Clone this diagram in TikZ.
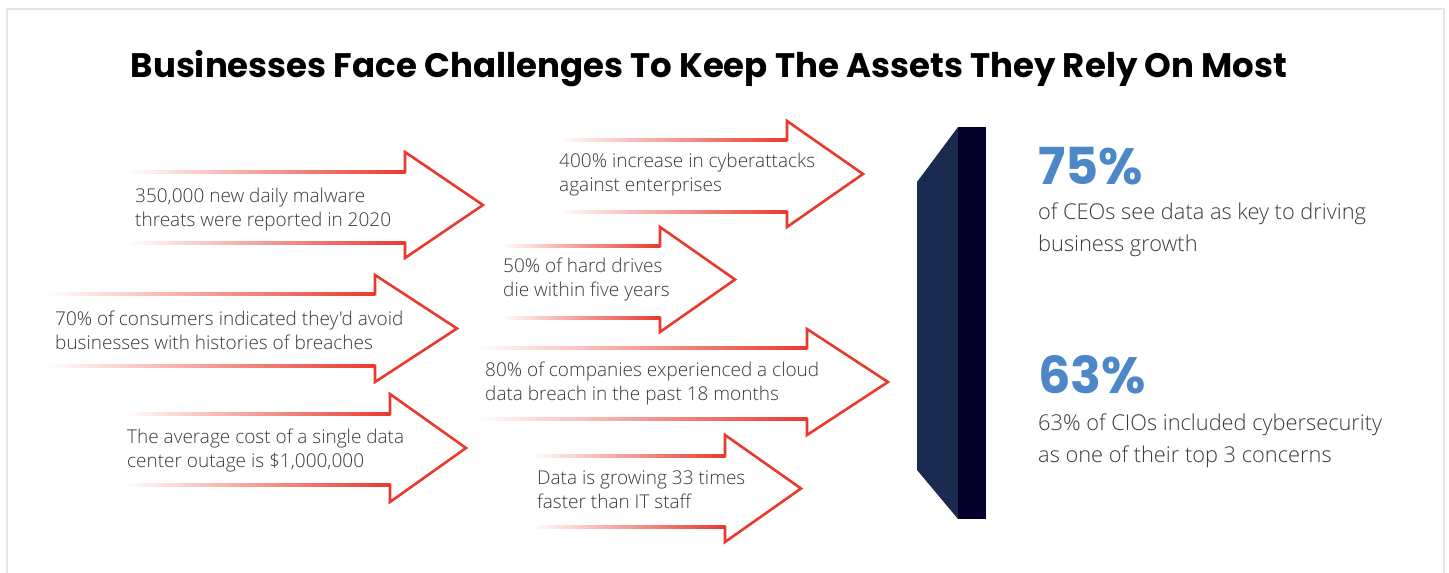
\documentclass[tikz,border=0pt]{standalone}
\usepackage{fontspec}
\setmainfont{Open Sans}
\newfontfamily\lightfont{Open Sans Light}
\newfontfamily\popfont{Poppins}
\definecolor{arrowred}{HTML}{E93A2E}
\definecolor{fadered}{HTML}{F8BBA6}
\definecolor{txtgray}{HTML}{3A3A3A}
\definecolor{framegray}{HTML}{E6E6E6}
\definecolor{wallnavy}{HTML}{1B2B50}
\definecolor{walldark}{HTML}{03012A}
\definecolor{statblue}{HTML}{4D87C7}
\tikzset{
  headline/.style={draw=arrowred, line width=2.6pt, line join=miter, line cap=butt},
  arrtext/.style={anchor=west, align=left, inner sep=0pt, text=txtgray,
    font=\lightfont\fontsize{19}{24}\selectfont},
  stattext/.style={anchor=north west, align=left, inner sep=0pt, text=txtgray,
    font=\lightfont\fontsize{21.8}{32}\selectfont},
  statnum/.style={anchor=south west, inner sep=0pt, text=statblue,
    font=\popfont\bfseries\fontsize{51}{51}\selectfont},
}
% #1 left x, #2 shaft top, #3 shaft bottom, #4 head base x, #5 head top, #6 head bottom, #7 tip x
\newcommand\outlinearrow[7]{%
  \shade[left color=white, middle color=fadered, right color=arrowred]
    (#1,#2-1.3) rectangle (#4,#2+1.3);
  \shade[left color=white, middle color=fadered, right color=arrowred]
    (#1,#3-1.3) rectangle (#4,#3+1.3);
  \draw[headline] (#4-1,#2) -- (#4,#2) -- (#4,#5) -- (#7,{(#5+#6)/2}) -- (#4,#6) -- (#4,#3) -- (#4-1,#3);
}
\begin{document}
\begin{tikzpicture}[x=1pt,y=-1pt]
\useasboundingbox (0,0) rectangle (1449,573);
\fill[white] (0,0) rectangle (1449,573);
\draw[framegray, line width=2.5pt] (7,573) -- (7,9) -- (1444,9) -- (1444,573);

\node[anchor=base, inner sep=0pt, font=\popfont\bfseries\fontsize{34}{34}\selectfont] (title)
  at (709,77) {Businesses Face Challenges To Keep The Assets They Rely On Most};

% arrows
\outlinearrow{127}{172}{243}{405}{152}{258}{483}
\outlinearrow{557}{140}{212}{787}{121}{227}{863}
\outlinearrow{500}{246}{318}{660}{227}{332}{735}
\outlinearrow{47}{294}{366}{375}{275}{382}{457}
\outlinearrow{477}{348}{419}{807}{329}{435}{888}
\outlinearrow{124}{414}{485}{390}{394}{502}{466}
\outlinearrow{530}{456}{527}{725}{435}{542}{801}

\node[arrtext] (t1) at (135,210) {350,000 new daily malware\\threats were reported in 2020};
\node[arrtext] (t2) at (559,175) {400\% increase in cyberattacks\\against enterprises};
\node[arrtext] (t3) at (503,280) {50\% of hard drives\\die within five years};
\node[arrtext] (t4) at (55,330) {70\% of consumers indicated they'd avoid\\businesses with histories of breaches};
\node[arrtext] (t5) at (485,384) {80\% of companies experienced a cloud\\data breach in the past 18 months};
\node[arrtext] (t6) at (127,451) {The average cost of a single data\\center outage is \$1,000,000};
\node[arrtext] (t7) at (537,490) {Data is growing 33 times\\faster than IT staff};

% wall
\fill[wallnavy] (917,182) -- (958,127) -- (958,519) -- (917,470) -- cycle;
\fill[walldark] (958,127) rectangle (986,519);

% stats
\node[statnum] (n1) at (1038,185) {75\%};
\node[stattext] (s1) at (1038,203) {of CEOs see data as key to driving\\business growth};
\node[statnum] (n2) at (1038,394) {63\%};
\node[stattext] (s2) at (1038,414) {63\% of CIOs included cybersecurity\\as one of their top 3 concerns};
\end{tikzpicture}
\end{document}
